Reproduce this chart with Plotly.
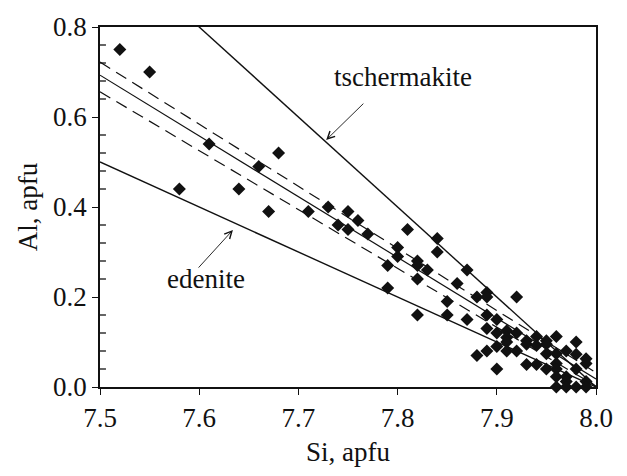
import plotly.graph_objects as go

# Amphibole analyses: Si vs Al (apfu)
si = [7.52, 7.55, 7.58, 7.61, 7.64, 7.66, 7.67, 7.68, 7.71, 7.73, 7.74, 7.75, 7.75,
      7.76, 7.77, 7.79, 7.79, 7.80, 7.80, 7.81, 7.82, 7.82, 7.82, 7.82, 7.83, 7.84,
      7.84, 7.85, 7.85, 7.86, 7.87, 7.87, 7.88, 7.88, 7.89, 7.89, 7.89, 7.89, 7.89,
      7.90, 7.90, 7.90, 7.90, 7.91, 7.91, 7.91, 7.91, 7.92, 7.92, 7.92, 7.93, 7.93,
      7.93, 7.94, 7.94, 7.94, 7.95, 7.95, 7.95, 7.95, 7.96, 7.96, 7.96, 7.96, 7.96,
      7.96, 7.97, 7.97, 7.97, 7.97, 7.98, 7.98, 7.98, 7.98, 7.99, 7.99, 7.99, 7.99]
al = [0.75, 0.70, 0.44, 0.54, 0.44, 0.49, 0.39, 0.52, 0.39, 0.40, 0.36, 0.39, 0.35,
      0.37, 0.34, 0.27, 0.22, 0.31, 0.29, 0.35, 0.28, 0.27, 0.24, 0.16, 0.26, 0.33,
      0.30, 0.19, 0.16, 0.23, 0.26, 0.15, 0.20, 0.07, 0.21, 0.20, 0.16, 0.13, 0.08,
      0.15, 0.12, 0.09, 0.04, 0.125, 0.11, 0.10, 0.08, 0.20, 0.12, 0.08, 0.103, 0.095,
      0.05, 0.112, 0.092, 0.05, 0.103, 0.095, 0.074, 0.04, 0.112, 0.074, 0.052, 0.04, 0.023,
      0.0, 0.08, 0.023, 0.012, 0.0, 0.10, 0.073, 0.04, 0.0, 0.063, 0.052, 0.012, 0.0]

# Substitution vectors from the ideal end (Si = 8, Al = 0)
line_si = [7.5, 8.0]
tschermakite_al = [1.0, 0.0]
edenite_al = [0.5, 0.0]

# Least-squares fit and its confidence limits
fit_al = [0.693, 0.018]
fit_upper_al = [0.722, 0.032]
fit_lower_al = [0.656, 0.002]

# Tick positions
si_ticks = [7.5, 7.6, 7.7, 7.8, 7.9, 8.0]
al_ticks = [0.0, 0.2, 0.4, 0.6, 0.8]
al_minor = [round(0.04 * i, 2) for i in range(21) if i % 5 != 0]

serif = "Liberation Serif"
fs = 27
ink = "#111111"
text_font = dict(family=serif, size=fs, color=ink)

fig = go.Figure()

for ref_al in (tschermakite_al, edenite_al):
    fig.add_trace(go.Scatter(x=line_si, y=ref_al, mode="lines",
                             line=dict(color=ink, width=1.4)))
fig.add_trace(go.Scatter(x=line_si, y=fit_al, mode="lines",
                         line=dict(color=ink, width=1.2)))
for band in (fit_upper_al, fit_lower_al):
    fig.add_trace(go.Scatter(x=line_si, y=band, mode="lines",
                             line=dict(color=ink, width=1.2, dash="12px,7px")))

fig.add_trace(go.Scatter(x=si, y=al, mode="markers", cliponaxis=False,
                         marker=dict(symbol="diamond", size=10, color=ink)))

fig.add_annotation(x=7.728, y=0.549, ax=7.767, ay=0.633, axref="x", ayref="y",
                   showarrow=True, arrowhead=5, arrowsize=1.6, arrowwidth=0.9,
                   arrowcolor=ink, text="")
fig.add_annotation(x=7.805, y=0.69, text="tschermakite", showarrow=False, font=text_font)
fig.add_annotation(x=7.634, y=0.349, ax=7.598, ay=0.262, axref="x", ayref="y",
                   showarrow=True, arrowhead=5, arrowsize=1.6, arrowwidth=0.9,
                   arrowcolor=ink, text="")
fig.add_annotation(x=7.607, y=0.24, text="edenite", showarrow=False, font=text_font)

# Short inward minor ticks on the Al axis, drawn from the left edge of the plot area
for v in al_minor:
    fig.add_shape(type="line", xref="x domain", yref="y", x0=0, x1=0.012, y0=v, y1=v,
                  line=dict(color=ink, width=1.3), layer="above")

fig.update_xaxes(range=[7.5, 8.0], tickmode="array", tickvals=si_ticks,
                 ticktext=[f"{v:.1f}" for v in si_ticks],
                 showgrid=False, zeroline=False, showline=True, linecolor=ink,
                 linewidth=1.5, mirror=True, ticks="outside", tickcolor=ink,
                 ticklen=6, tickwidth=1.3, tickfont=text_font,
                 title=dict(text="Si, apfu", standoff=10, font=text_font))
fig.update_yaxes(range=[0, 0.8], tickmode="array", tickvals=al_ticks,
                 ticktext=[f"{v:.1f}" for v in al_ticks],
                 showgrid=False, zeroline=False, showline=True, linecolor=ink,
                 linewidth=1.5, mirror=True, ticks="outside", tickcolor=ink,
                 ticklen=6, tickwidth=1.3, tickfont=text_font,
                 title=dict(text="Al, apfu", standoff=8, font=text_font))

fig.update_layout(width=627, height=476, showlegend=False,
                  margin=dict(l=100, r=31, t=23, b=89),
                  paper_bgcolor="white", plot_bgcolor="white")

fig.write_html("out.html")
